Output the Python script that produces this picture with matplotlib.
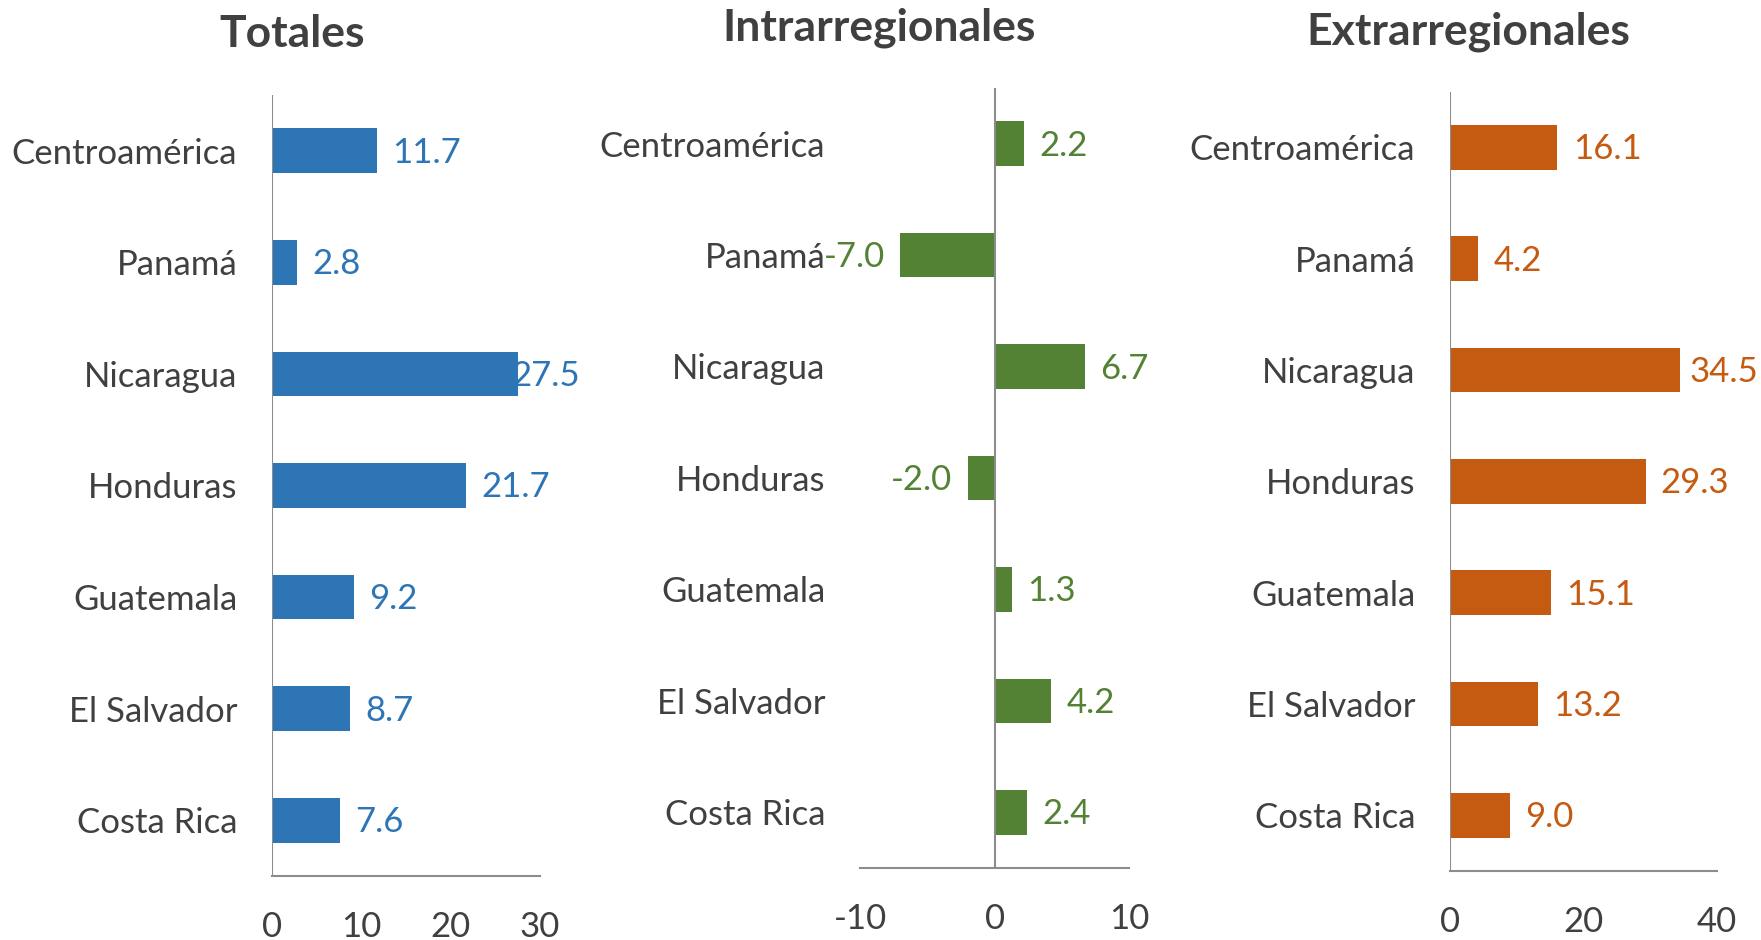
import matplotlib
matplotlib.use("Agg")
import matplotlib.pyplot as plt
import numpy as np

# datos (de arriba hacia abajo)
paises = ["Centroamérica", "Panamá", "Nicaragua", "Honduras", "Guatemala", "El Salvador", "Costa Rica"]
totales = [11.7, 2.8, 27.5, 21.7, 9.2, 8.7, 7.6]
intra = [2.2, -7.0, 6.7, -2.0, 1.3, 4.2, 2.4]
extra = [16.1, 4.2, 34.5, 29.3, 15.1, 13.2, 9.0]

titulos = ["Totales", "Intrarregionales", "Extrarregionales"]
colores = ["#2E75B6", "#548235", "#C55A11"]
xlims = [(0, 30), (-10, 10), (0, 40)]
xticks = [[0, 10, 20, 30], [-10, 0, 10], [0, 20, 40]]

plt.rcParams["font.family"] = ["Lato", "DejaVu Sans"]
plt.rcParams["axes.unicode_minus"] = False
gris_txt = "#404040"
gris_eje = "#8C8C8C"
tam = 25

fig = plt.figure(figsize=(17.61, 9.40), dpi=100)

posiciones = [
    [0.1545, 0.0681, 0.1522, 0.831],
    [0.4884, 0.0766, 0.1528, 0.830],
    [0.8234, 0.0734, 0.1516, 0.829],
]
pos_titulo = [(0.1658, 0.964), (0.4993, 0.970), (0.834, 0.9666)]
limite_der = [580, 1200, 1758]  # borde derecho del área de cada gráfico (px)

series = [totales, intra, extra]
y = np.arange(len(paises))

etiquetas = []
for k, (vals, col) in enumerate(zip(series, colores)):
    ax = fig.add_axes(posiciones[k])
    ax.barh(y, vals, height=0.4, color=col, zorder=2)
    ax.set_ylim(len(paises) - 0.5, -0.5)
    ax.set_xlim(*xlims[k])
    ax.set_xticks(xticks[k])
    ax.set_yticks(y)
    ax.set_yticklabels(paises)
    ax.tick_params(axis="both", length=0, labelsize=tam, colors=gris_txt)
    ax.tick_params(axis="y", pad=25)
    ax.tick_params(axis="x", pad=25)
    for s in ["top", "right", "left"]:
        ax.spines[s].set_visible(False)
    ax.spines["bottom"].set_color(gris_eje)
    ax.spines["bottom"].set_linewidth(1.5)
    ax.axvline(0, color=gris_eje, lw=1.5, zorder=3)

    for i, v in enumerate(vals):
        if v >= 0:
            t = ax.annotate(f"{v:.1f}", (v, i), xytext=(11, -1.5), textcoords="offset points",
                            ha="left", va="center", fontsize=tam, color=col)
        else:
            t = ax.annotate(f"{v:.1f}", (v, i), xytext=(-11, -1.5), textcoords="offset points",
                            ha="right", va="center", fontsize=tam, color=col)
        etiquetas.append((t, k))

    fig.text(pos_titulo[k][0], pos_titulo[k][1], titulos[k], ha="center", va="center",
             fontsize=32, fontweight="bold", color=gris_txt)

# mover etiquetas que se salen del área del gráfico
fig.canvas.draw()
r = fig.canvas.get_renderer()
for t, k in etiquetas:
    bb = t.get_window_extent(r)
    if bb.x1 > limite_der[k]:
        dx = (bb.x1 - limite_der[k]) * 72 / fig.dpi
        t.xyann = (t.xyann[0] - dx, t.xyann[1])

fig.savefig("out.png", dpi=100, facecolor="white")
